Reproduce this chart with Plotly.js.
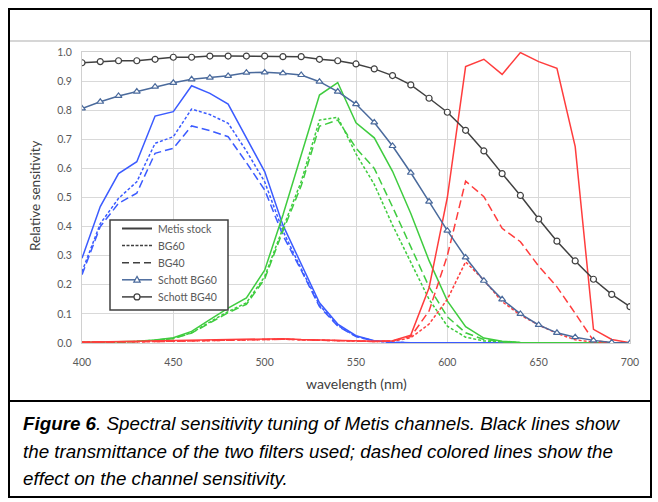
<!DOCTYPE html>
<html>
<head>
<meta charset="utf-8">
<script src="https://cdn.plot.ly/plotly-3.0.1.min.js"></script>
<style>
html,body{margin:0;padding:0;background:#fff;}
#chart{width:658px;height:502px;}
</style>
</head>
<body>
<div id="chart"></div>
<script>
// ---- data (wavelength in nm, sampled every 10 nm) ----
const wavelength = [400,410,420,430,440,450,460,470,480,490,500,510,520,530,540,550,560,570,580,590,600,610,620,630,640,650,660,670,680,690,700];

const blueStock = [0.291,0.469,0.582,0.623,0.780,0.795,0.884,0.858,0.821,0.705,0.589,0.405,0.270,0.138,0.065,0.025,0.008,0.003,0.001,0.001,0,0,0,0,0,0,0,0,0,0,0];
const blueBG60  = [0.245,0.410,0.497,0.554,0.686,0.709,0.804,0.785,0.755,0.660,0.554,0.385,0.255,0.130,0.060,0.023,0.007,0.002,0.001,0,0,0,0,0,0,0,0,0,0,0,0];
const blueBG40  = [0.235,0.400,0.480,0.515,0.652,0.669,0.746,0.730,0.709,0.620,0.526,0.370,0.250,0.125,0.058,0.022,0.007,0.002,0.001,0,0,0,0,0,0,0,0,0,0,0,0];

const greenStock = [0.003,0.003,0.004,0.006,0.010,0.018,0.040,0.080,0.120,0.155,0.250,0.440,0.645,0.852,0.895,0.757,0.705,0.590,0.445,0.283,0.145,0.056,0.017,0.006,0.002,0.001,0,0,0,0,0];
const greenBG60  = [0.002,0.002,0.003,0.005,0.009,0.016,0.035,0.072,0.108,0.138,0.228,0.395,0.555,0.766,0.776,0.650,0.545,0.405,0.275,0.150,0.058,0.020,0.007,0.003,0.001,0,0,0,0,0,0];
const greenBG40  = [0.002,0.002,0.003,0.005,0.009,0.015,0.034,0.070,0.104,0.133,0.220,0.385,0.540,0.745,0.766,0.670,0.600,0.468,0.331,0.193,0.090,0.035,0.012,0.004,0.001,0,0,0,0,0,0];

const redStock = [0.003,0.004,0.005,0.005,0.006,0.007,0.008,0.010,0.010,0.011,0.012,0.015,0.012,0.010,0.010,0.008,0.006,0.008,0.027,0.190,0.500,0.950,0.975,0.923,0.998,0.967,0.944,0.675,0.047,0.012,0.001];
const redBG60  = [0.003,0.003,0.004,0.004,0.005,0.006,0.007,0.009,0.009,0.010,0.011,0.013,0.011,0.009,0.008,0.007,0.005,0.006,0.018,0.065,0.150,0.279,0.216,0.142,0.096,0.062,0.033,0.011,0.003,0.001,0];
const redBG40  = [0.003,0.003,0.004,0.004,0.005,0.006,0.007,0.009,0.009,0.010,0.011,0.013,0.011,0.009,0.008,0.007,0.005,0.007,0.022,0.110,0.300,0.556,0.503,0.394,0.348,0.264,0.193,0.102,0.008,0.001,0];

const schottBG60 = [0.806,0.829,0.849,0.864,0.881,0.894,0.906,0.912,0.918,0.929,0.930,0.927,0.921,0.898,0.864,0.821,0.758,0.677,0.585,0.486,0.386,0.294,0.214,0.150,0.100,0.062,0.035,0.020,0.009,0.002,0.000];
const schottBG40 = [0.963,0.967,0.970,0.970,0.975,0.982,0.982,0.986,0.986,0.986,0.986,0.984,0.984,0.975,0.970,0.959,0.942,0.919,0.887,0.841,0.793,0.731,0.660,0.582,0.507,0.426,0.350,0.282,0.219,0.167,0.125];

const legendNames = ["Metis stock","BG60","BG40","Schott BG60","Schott BG40"];
const xTicks = [400,450,500,550,600,650,700];
const yTicks = [0,0.1,0.2,0.3,0.4,0.5,0.6,0.7,0.8,0.9,1.0];

const captionLines = [
  "<b>Figure 6</b>. Spectral sensitivity tuning of Metis channels. Black lines show",
  "the transmittance of the two filters used; dashed colored lines show the",
  "effect on the channel sensitivity."
];

// ---- styling ----
const BLUE = "#3b5bff", GREEN = "#3fcc3f", RED = "#ff3d3d";
const SLATE = "#4a6a9c", DARK = "#404040", GREYTXT = "#595959";
const DOT = "3px,2px", DASH = "8px,4px";
const LW = 1.5;
const FONT = "Lato, 'Open Sans', sans-serif";

// plot-area pixel box
const L = 82, R = 630, T = 52, B = 343;
const px = v => (v - L) / (R - L);
const py = v => (B - v) / (B - T);

function chan(y, color, dash){
  return {x: wavelength, y: y, type: "scatter", mode: "lines", showlegend: false,
          hoverinfo: "skip", line: {color: color, width: LW, dash: dash}};
}

const traces = [
  chan(blueStock, BLUE, "solid"), chan(blueBG60, BLUE, DOT), chan(blueBG40, BLUE, DASH),
  chan(greenStock, GREEN, "solid"), chan(greenBG60, GREEN, DOT), chan(greenBG40, GREEN, DASH),
  chan(redStock, RED, "solid"), chan(redBG60, RED, DOT), chan(redBG40, RED, DASH),
  {x: wavelength, y: schottBG60, type:"scatter", mode:"lines+markers", name: legendNames[3], showlegend:false,
   line:{color:SLATE, width:1.5}, marker:{symbol:"triangle-up", size:6, color:"#ffffff", line:{color:SLATE, width:1.2}}},
  {x: wavelength, y: schottBG40, type:"scatter", mode:"lines+markers", name: legendNames[4], showlegend:false,
   line:{color:DARK, width:1.5}, marker:{symbol:"circle", size:6, color:"#ffffff", line:{color:DARK, width:1.2}}}
];

const annotations = [
  {text:"Relative sensitivity", xref:"paper", yref:"paper", x:px(35), y:py(196), showarrow:false,
   textangle:-90, font:{family:FONT, size:13.5, color:"#404040"}, xanchor:"center", yanchor:"middle"},
  {text:"wavelength (nm)", xref:"paper", yref:"paper", x:px(356), y:py(383), showarrow:false,
   font:{family:FONT, size:14, color:"#404040"}, xanchor:"center", yanchor:"middle"}
];
const capY = [424, 451, 478];
captionLines.forEach((t,i) => annotations.push({
  text:"<i>"+t+"</i>", xref:"paper", yref:"paper", x:px(21), y:py(capY[i]), showarrow:false,
  xanchor:"left", yanchor:"middle", align:"left",
  font:{family:"'Liberation Sans', Arial, sans-serif", size:18.8, color:"#000000"}
}));

const shapes = [
  {type:"rect", xref:"paper", yref:"paper", x0:px(9), x1:px(651), y0:py(9), y1:py(497), line:{color:"#000", width:2}},
  {type:"line", xref:"paper", yref:"paper", x0:px(10), x1:px(650), y0:py(41), y1:py(41), line:{color:"#c8c8c8", width:1.5}},
  {type:"line", xref:"paper", yref:"paper", x0:px(9), x1:px(651), y0:py(401), y1:py(401), line:{color:"#000", width:2}}
];

// ---- hand-drawn legend box (compact row spacing like the original) ----
const LG = {x0:110, x1:228, y0:220, y1:310, lineX0:122, lineX1:152, textX:156, rowY:[228.5,245.6,262.7,279.8,296.9]};
shapes.push({type:"rect", xref:"paper", yref:"paper", layer:"above", x0:px(LG.x0), x1:px(LG.x1), y0:py(LG.y0), y1:py(LG.y1),
             fillcolor:"#ffffff", line:{color:"#404040", width:1.5}});
const legendStyles = [
  {color:DARK, dash:"solid", width:2},
  {color:DARK, dash:"3px,1.5px", width:1.5},
  {color:DARK, dash:"7px,4px", width:1.5},
  {color:SLATE, dash:"solid", width:1.5},
  {color:DARK, dash:"solid", width:1.5}
];
legendNames.forEach((name,i) => {
  const yy = LG.rowY[i];
  shapes.push({type:"line", xref:"paper", yref:"paper", layer:"above", x0:px(LG.lineX0), x1:px(LG.lineX1), y0:py(yy), y1:py(yy),
               line:{color:legendStyles[i].color, width:legendStyles[i].width, dash:legendStyles[i].dash}});
  annotations.push({text:name, xref:"paper", yref:"paper", x:px(LG.textX), y:py(yy), showarrow:false,
                    xanchor:"left", yanchor:"middle", font:{family:FONT, size:10.5, color:GREYTXT}});
});
// legend markers
const mx = (LG.lineX0 + LG.lineX1)/2;
{
  const yy = LG.rowY[3];
  const p = [[mx, yy-3.4],[mx+3.2, yy+2.4],[mx-3.2, yy+2.4]];
  shapes.push({type:"path", xref:"paper", yref:"paper", layer:"above",
               path:"M"+p.map(q => px(q[0])+","+py(q[1])).join(" L")+" Z",
               fillcolor:"#ffffff", line:{color:SLATE, width:1.2}});
  const y4 = LG.rowY[4];
  shapes.push({type:"circle", xref:"paper", yref:"paper", layer:"above",
               x0:px(mx-3), x1:px(mx+3), y0:py(y4-3), y1:py(y4+3), fillcolor:"#ffffff", line:{color:DARK, width:1.2}});
}

const layout = {
  width: 658, height: 502,
  margin: {l: L, r: 658 - R, t: T, b: 502 - B, pad: 0},
  paper_bgcolor: "#ffffff", plot_bgcolor: "#ffffff",
  font: {family: FONT, color: GREYTXT, size: 10},
  xaxis: {range:[400,700], tickvals: xTicks, ticktext: xTicks.map(String), showgrid:true, gridcolor:"#d9d9d9", gridwidth:1,
          showline:true, linecolor:"#d0d0d0", linewidth:1, mirror:true, zeroline:false, ticks:"", ticklabelstandoff:9,
          tickfont:{size:10.5, color:GREYTXT}},
  yaxis: {range:[0,1], tickvals: yTicks, ticktext: yTicks.map(v => v.toFixed(1)), showgrid:true, gridcolor:"#d9d9d9", gridwidth:1,
          showline:true, linecolor:"#d0d0d0", linewidth:1, mirror:true, zeroline:false, ticks:"", ticklabelstandoff:7,
          tickfont:{size:10.5, color:GREYTXT}},
  showlegend: false,
  annotations: annotations,
  shapes: shapes
};

Plotly.newPlot("chart", traces, layout, {displayModeBar:false, staticPlot:true});
</script>
</body>
</html>
